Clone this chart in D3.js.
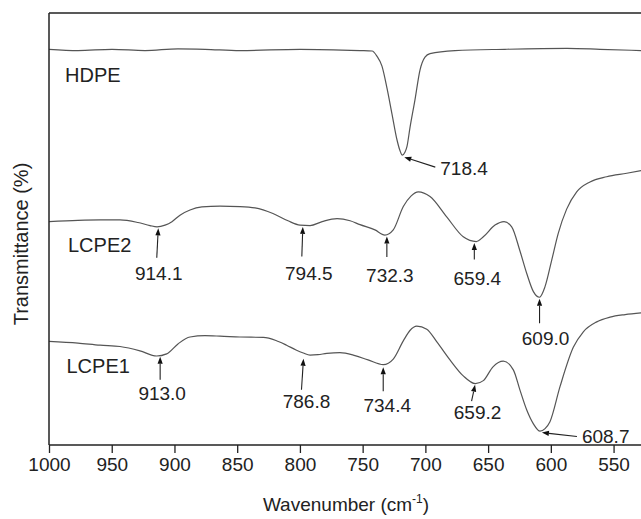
<!DOCTYPE html>
<html>
<head>
<meta charset="utf-8">
<script src="https://cdn.jsdelivr.net/npm/d3@7/dist/d3.min.js"></script>
<style>
  html, body { margin: 0; padding: 0; background: #fff; overflow: hidden; }
  svg { display: block; }
  text { font-family: "Liberation Sans", Arial, Helvetica, sans-serif; fill: #222; }
</style>
</head>
<body>
<svg id="chart" width="641" height="519"></svg>
<script>
// FTIR spectra, 1000–500 cm⁻¹, traces offset vertically (arbitrary transmittance units)
const hdpeWavenumber = [1000.0, 976.9, 949.8, 923.5, 897.2, 875.7, 847.8, 799.9, 752.1, 742.5, 738.6, 734.6, 730.6, 726.6, 722.6, 720.2, 718.4, 716.2, 714.6, 712.3, 708.3, 704.3, 700.3, 696.3, 676.4, 636.5, 587.1, 560.8, 528.1];
const hdpeValue      = [91.6, 91.3, 91.6, 91.3, 91.7, 91.6, 91.3, 91.6, 91.3, 91.2, 90.0, 87.7, 82.6, 76.6, 70.6, 68.1, 67.1, 67.8, 69.2, 73.4, 79.9, 86.8, 89.8, 90.6, 91.3, 91.6, 91.8, 91.6, 91.3];

const lcpe2Wavenumber = [1000.0, 976.9, 959.3, 943.4, 929.1, 919.5, 913.9, 907.5, 902.0, 895.6, 887.6, 878.1, 863.7, 847.8, 835.8, 821.5, 809.5, 799.9, 791.9, 782.3, 770.4, 760.0, 752.1, 740.2, 732.3, 725.6, 717.6, 711.5, 705.6, 696.3, 683.0, 669.8, 659.4, 653.8, 644.5, 637.3, 631.2, 624.6, 619.2, 613.9, 609.0, 604.7, 599.3, 594.1, 587.4, 579.4, 568.8, 555.5, 539.5, 528.1];
const lcpe2Value      = [51.7, 52.0, 52.1, 52.1, 51.5, 50.8, 50.5, 50.9, 51.7, 53.2, 54.4, 55.1, 55.3, 55.2, 54.9, 53.6, 51.9, 50.9, 50.8, 51.7, 52.4, 51.9, 51.0, 49.8, 48.6, 49.8, 55.2, 57.6, 58.6, 57.5, 52.8, 48.2, 47.1, 48.2, 50.9, 51.7, 50.5, 44.9, 39.7, 35.5, 34.2, 36.6, 42.8, 49.0, 54.6, 58.6, 60.9, 62.1, 62.9, 63.5];

const lcpe1Wavenumber = [1000.0, 976.9, 959.3, 943.4, 927.5, 914.2, 906.2, 897.2, 887.6, 875.7, 863.7, 847.8, 829.2, 819.1, 810.6, 803.1, 797.3, 791.9, 785.6, 778.6, 768.1, 756.1, 745.7, 733.5, 725.6, 717.6, 712.3, 706.9, 698.9, 690.7, 680.4, 669.8, 660.2, 653.8, 646.1, 637.9, 629.9, 624.6, 619.2, 613.9, 608.6, 604.6, 600.7, 592.7, 582.1, 574.1, 563.4, 552.8, 540.8, 528.1];
const lcpe1Value      = [24.0, 23.6, 23.1, 22.8, 21.8, 20.6, 21.1, 23.4, 25.0, 25.3, 25.2, 25.0, 24.9, 24.2, 23.1, 22.0, 21.3, 20.8, 20.9, 21.2, 21.4, 20.7, 19.7, 18.6, 19.9, 24.1, 26.5, 27.5, 26.8, 23.8, 19.7, 16.0, 14.2, 14.9, 18.1, 19.4, 17.4, 12.7, 8.1, 4.9, 3.2, 3.8, 5.4, 13.5, 22.6, 26.2, 28.5, 29.6, 30.2, 30.6];

const seriesNames = ["HDPE", "LCPE2", "LCPE1"];

// Marked band positions (cm⁻¹) per spectrum
const peakSeries = ["HDPE", "LCPE2", "LCPE2", "LCPE2", "LCPE2", "LCPE2", "LCPE1", "LCPE1", "LCPE1", "LCPE1", "LCPE1"];
const peakWavenumber = [718.4, 914.1, 794.5, 732.3, 659.4, 609.0, 913.0, 786.8, 734.4, 659.2, 608.7];

const xTickValues = [1000, 950, 900, 850, 800, 750, 700, 650, 600, 550];

const width = 641, height = 519;
const plot = { left: 49, top: 13, bottom: 445 };

const svg = d3.select("#chart");

const x = d3.scaleLinear().domain([1000, 500]).range([plot.left, plot.left + 500 * 1.2546]);
const y = d3.scaleLinear().domain([0, 100]).range([plot.bottom, plot.top]);

const seriesData = {
  HDPE:  hdpeWavenumber.map((w, i) => ({ w, v: hdpeValue[i] })),
  LCPE2: lcpe2Wavenumber.map((w, i) => ({ w, v: lcpe2Value[i] })),
  LCPE1: lcpe1Wavenumber.map((w, i) => ({ w, v: lcpe1Value[i] }))
};

const line = d3.line()
  .x(d => x(d.w))
  .y(d => y(d.v))
  .curve(d3.curveMonotoneX);

svg.append("defs").append("clipPath").attr("id", "plotClip")
  .append("rect").attr("x", plot.left).attr("y", plot.top)
  .attr("width", width - plot.left + 50).attr("height", plot.bottom - plot.top);

// spectra
svg.append("g").attr("clip-path", "url(#plotClip)")
  .selectAll("path").data(seriesNames).join("path")
  .attr("d", n => line(seriesData[n]))
  .attr("fill", "none")
  .attr("stroke", "#555")
  .attr("stroke-width", 1.2)
  .attr("stroke-linejoin", "round");

// frame: left and top edges
svg.append("line").attr("x1", plot.left).attr("x2", plot.left)
  .attr("y1", plot.top).attr("y2", plot.bottom)
  .attr("stroke", "#222").attr("stroke-width", 1.5);
svg.append("line").attr("x1", plot.left).attr("x2", width + 10)
  .attr("y1", plot.top).attr("y2", plot.top)
  .attr("stroke", "#222").attr("stroke-width", 1.5);

// bottom axis
const xAxis = d3.axisBottom(x).tickValues(xTickValues).tickSize(8).tickPadding(5).tickFormat(d3.format("d"));
const gx = svg.append("g").attr("transform", `translate(0,${plot.bottom})`).call(xAxis);
gx.select(".domain").attr("stroke", "#222").attr("stroke-width", 1.5)
  .attr("d", `M${plot.left},0H${width + 10}`);
gx.selectAll(".tick line").attr("stroke", "#222").attr("stroke-width", 1.3);
gx.selectAll(".tick text").attr("font-size", 19).attr("fill", "#222")
  .style("font-family", "'Liberation Sans', Arial, sans-serif");

// axis titles
const xt = svg.append("text").attr("x", 346).attr("y", 511)
  .attr("text-anchor", "middle").attr("font-size", 19);
xt.append("tspan").text("Wavenumber (cm");
xt.append("tspan").attr("font-size", 12).attr("dy", -8).text("-1");
xt.append("tspan").attr("dy", 8).text(")");

svg.append("text")
  .attr("transform", "translate(28,244) rotate(-90)")
  .attr("text-anchor", "middle").attr("font-size", 20)
  .text("Transmittance (%)");

// spectrum names
const nameLayout = { HDPE: [65, 81.5], LCPE2: [68, 251.5], LCPE1: [66.5, 373] };
svg.selectAll("text.sname").data(seriesNames).join("text")
  .attr("class", "sname")
  .attr("x", n => nameLayout[n][0]).attr("y", n => nameLayout[n][1])
  .attr("font-size", 20)
  .text(n => n);

// value of a spectrum at a given wavenumber (linear between samples)
function valueAt(name, w) {
  const d = seriesData[name];
  for (let i = 0; i < d.length - 1; i++) {
    const a = d[i], b = d[i + 1];
    if ((w <= a.w && w >= b.w)) {
      const t = (a.w - w) / (a.w - b.w);
      return a.v + t * (b.v - a.v);
    }
  }
  return d[d.length - 1].v;
}

// annotation layout: tip offset, tail offset, label offset, anchor
const annLayout = [
  { tip: [2, 2],    tail: [33, 12],  label: [38, 20],  anchor: "start" },
  { tip: [1.5, 1.5], tail: [0, 31],  label: [2, 53],   anchor: "middle" },
  { tip: [-4, 1.5], tail: [-5, 31],  label: [2, 55],   anchor: "middle" },
  { tip: [2, 1.5],  tail: [2, 22],   label: [5, 47],   anchor: "middle" },
  { tip: [-2, 1.5], tail: [-2, 18],  label: [1, 43],   anchor: "middle" },
  { tip: [0, 1.5],  tail: [0, 26],   label: [6, 48],   anchor: "middle" },
  { tip: [2, 1],    tail: [2, 24],   label: [4, 44],   anchor: "middle" },
  { tip: [-13, 4],  tail: [-15, 35], label: [-10, 53], anchor: "middle" },
  { tip: [1, 3],    tail: [1, 27],   label: [5, 48],   anchor: "middle" },
  { tip: [-1.5, 1.5], tail: [-5, 18], label: [1, 36],  anchor: "middle" },
  { tip: [2, 1.5],  tail: [37, 5.5], label: [42, 11.5], anchor: "start" }
];

const annotations = peakWavenumber.map((w, i) => {
  const px = x(w), py = y(valueAt(peakSeries[i], w));
  const L = annLayout[i];
  return {
    text: w.toFixed(1),
    tip: [px + L.tip[0], py + L.tip[1]],
    tail: [px + L.tail[0], py + L.tail[1]],
    label: [px + L.label[0], py + L.label[1]],
    anchor: L.anchor
  };
});

const ag = svg.append("g");
annotations.forEach(a => {
  const dx = a.tip[0] - a.tail[0], dy = a.tip[1] - a.tail[1];
  const len = Math.hypot(dx, dy), ux = dx / len, uy = dy / len;
  const headLen = 7, headW = 2.6;
  const bx = a.tip[0] - ux * headLen, by = a.tip[1] - uy * headLen;
  ag.append("line")
    .attr("x1", a.tail[0]).attr("y1", a.tail[1]).attr("x2", bx).attr("y2", by)
    .attr("stroke", "#222").attr("stroke-width", 1.1);
  ag.append("path")
    .attr("d", `M${a.tip[0]},${a.tip[1]}L${bx - uy * headW},${by + ux * headW}L${bx + uy * headW},${by - ux * headW}Z`)
    .attr("fill", "#111");
  ag.append("text")
    .attr("x", a.label[0]).attr("y", a.label[1])
    .attr("text-anchor", a.anchor).attr("font-size", 19)
    .text(a.text);
});
</script>
</body>
</html>
